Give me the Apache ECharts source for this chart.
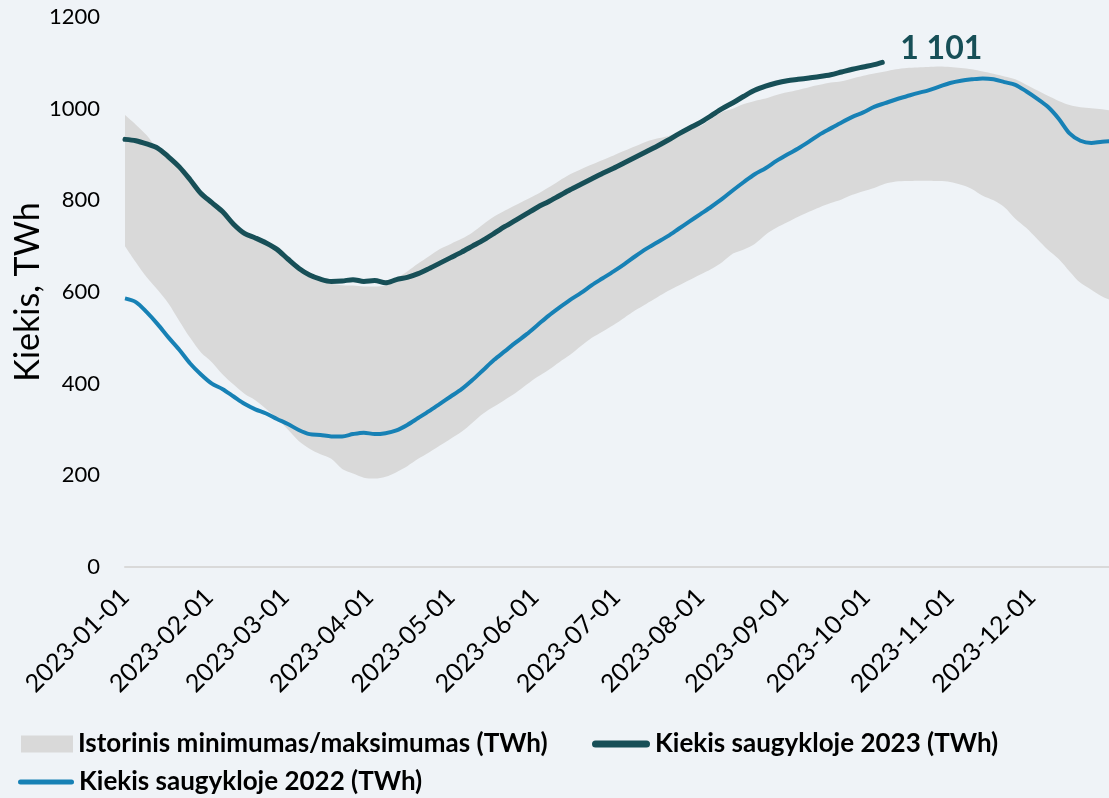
<!DOCTYPE html>
<html lang="lt">

<head>
	<meta charset="UTF-8" />
	<meta name="viewport" content="width=device-width, initial-scale=1.0" />
	<script src="https://cdn.jsdelivr.net/npm/echarts@6/dist/echarts.min.js"></script>
	<title>Dujų kiekis saugyklose</title>
	<style>
		html, body { margin: 0; padding: 0; background: #eff3f7; }
		#main { width: 1109px; height: 798px; }
	</style>
</head>

<body>
	<div id="main"></div>

	<script type="text/javascript">
		// datos kas 4 dienas
		const dates = [
			'2023-01-01', '2023-01-05', '2023-01-09', '2023-01-13', '2023-01-17', '2023-01-21', '2023-01-25', '2023-01-29',
			'2023-02-02', '2023-02-06', '2023-02-10', '2023-02-14', '2023-02-18', '2023-02-22', '2023-02-26',
			'2023-03-02', '2023-03-06', '2023-03-10', '2023-03-14', '2023-03-18', '2023-03-22', '2023-03-26', '2023-03-30',
			'2023-04-03', '2023-04-07', '2023-04-11', '2023-04-15', '2023-04-19', '2023-04-23', '2023-04-27',
			'2023-05-01', '2023-05-05', '2023-05-09', '2023-05-13', '2023-05-17', '2023-05-21', '2023-05-25', '2023-05-29',
			'2023-06-02', '2023-06-06', '2023-06-10', '2023-06-14', '2023-06-18', '2023-06-22', '2023-06-26', '2023-06-30',
			'2023-07-04', '2023-07-08', '2023-07-12', '2023-07-16', '2023-07-20', '2023-07-24', '2023-07-28',
			'2023-08-01', '2023-08-05', '2023-08-09', '2023-08-13', '2023-08-17', '2023-08-21', '2023-08-25', '2023-08-29',
			'2023-09-02', '2023-09-06', '2023-09-10', '2023-09-14', '2023-09-18', '2023-09-22', '2023-09-26', '2023-09-30',
			'2023-10-04', '2023-10-08', '2023-10-12', '2023-10-16', '2023-10-20', '2023-10-24', '2023-10-28',
			'2023-11-01', '2023-11-05', '2023-11-09', '2023-11-13', '2023-11-17', '2023-11-21', '2023-11-25', '2023-11-29',
			'2023-12-03', '2023-12-07', '2023-12-11', '2023-12-15', '2023-12-19', '2023-12-23', '2023-12-27', '2023-12-31',
		];

		const histMax = [
			986, 965, 942, 912, 893, 871, 843, 813, 793, 773,
			746, 726, 716, 705, 691, 670, 650, 635, 625, 618,
			615, 614, 612, 612, 615, 630, 645, 662, 678, 694,
			705, 716, 730, 748, 765, 778, 790, 802, 814, 828,
			843, 857, 868, 878, 888, 898, 908, 918, 928, 935,
			940, 948, 955, 962, 978, 993, 1000, 1010, 1017, 1022,
			1030, 1036, 1041, 1047, 1052, 1057, 1060, 1066, 1072, 1077,
			1081, 1086, 1089, 1090, 1091, 1092, 1091, 1089, 1086, 1081,
			1076, 1070, 1064, 1052, 1040, 1028, 1017, 1008, 1003, 1001,
			999, 995,
		];

		const histMin = [
			700, 665, 632, 605, 575, 537, 500, 468, 447, 420,
			398, 378, 364, 345, 325, 300, 275, 258, 246, 236,
			214, 204, 195, 193, 197, 207, 220, 236, 250, 265,
			280, 295, 315, 335, 350, 365, 380, 398, 415, 430,
			447, 463, 482, 500, 514, 528, 544, 560, 574, 588,
			602, 614, 626, 638, 650, 665, 684, 693, 705, 725,
			740, 752, 764, 775, 785, 794, 802, 812, 820, 827,
			836, 841, 842, 843, 843, 842, 840, 834, 825, 810,
			800, 785, 760, 740, 716, 692, 672, 645, 620, 605,
			590, 580,
		];

		const storage2022 = [
			586, 578, 556, 530, 501, 474, 444, 420, 400, 388,
			372, 356, 344, 335, 323, 312, 299, 290, 288, 285,
			285, 290, 293, 290, 292, 298, 310, 325, 340, 356,
			372, 388, 408, 430, 452, 471, 490, 508, 528, 548,
			566, 583, 598, 615, 630, 645, 661, 678, 694, 708,
			722, 738, 754, 770, 786, 803, 822, 840, 857, 870,
			886, 900, 913, 928, 944, 957, 970, 982, 992, 1004,
			1012, 1020, 1027, 1034, 1040, 1048, 1056, 1061, 1064, 1066,
			1064, 1058, 1052, 1038, 1022, 1004, 978, 946, 930, 925,
			928, 929,
		];

		// 2023 m. duomenys iki spalio 4 d., paskutinis taškas atskirai
		const storage2023 = [
			933, 930, 923, 914, 895, 873, 845, 815, 795, 775,
			748, 728, 718, 707, 693, 672, 652, 637, 628, 623,
			624, 627, 623, 625, 620, 627, 632, 640, 651, 663,
			675, 687, 700, 713, 728, 743, 757, 771, 785, 797,
			810, 823, 835, 847, 859, 870, 882, 894, 906, 918,
			931, 945, 958, 970, 985, 1000, 1013, 1027, 1040, 1049,
			1056, 1061, 1064, 1067, 1070, 1074, 1080, 1086, 1091, 1096,
		];
		const lastDate2023 = '2023-10-07';
		const lastValue2023 = 1101;

		const monthTicks = [
			'2023-01-01', '2023-02-01', '2023-03-01', '2023-04-01', '2023-05-01', '2023-06-01',
			'2023-07-01', '2023-08-01', '2023-09-01', '2023-10-01', '2023-11-01', '2023-12-01',
		];

		const NAME_BAND = 'Istorinis minimumas/maksimumas (TWh)';
		const NAME_2023 = 'Kiekis saugykloje 2023 (TWh)';
		const NAME_2022 = 'Kiekis saugykloje 2022 (TWh)';

		const COLOR_BAND = '#d9d9d9';
		const COLOR_2023 = '#174f57';
		const COLOR_2022 = '#1781b5';

		const ICON_2023 = 'path://M3.5,0L54.5,0A3.5,3.5,0,0,1,54.5,7L3.5,7A3.5,3.5,0,0,1,3.5,0Z';
		const ICON_2022 = 'path://M2.5,0L53.5,0A2.5,2.5,0,0,1,53.5,5L2.5,5A2.5,2.5,0,0,1,2.5,0Z';

		const toPairs = (xs, ys) => ys.map((v, i) => [xs[i], v]);
		const fmtThousands = v => String(v).replace(/\B(?=(\d{3})+(?!\d))/g, ' ');

		const initDom = () => {
			const mainChart = echarts.init(document.getElementById('main'));

			const bandDiff = histMax.map((v, i) => v - histMin[i]);
			const line2023 = toPairs(dates, storage2023).concat([[lastDate2023, lastValue2023]]);

			const legendText = {
				fontFamily: 'Lato',
				fontWeight: 'bold',
				fontSize: 26,
				color: '#000',
			};

			const option = {
				backgroundColor: '#eff3f7',
				animation: false,
				textStyle: { fontFamily: 'Lato' },
				grid: {
					left: 125,
					top: 17,
					width: 988,
					height: 550,
					containLabel: false,
					outerBoundsMode: 'none',
				},
				legend: [
					{
						data: [{ name: NAME_BAND, icon: 'rect', itemStyle: { color: COLOR_BAND, borderWidth: 0 } }],
						left: 21,
						top: 731,
						padding: 0,
						itemWidth: 52,
						itemHeight: 17,
						textStyle: legendText,
					},
					{
						data: [{ name: NAME_2023, icon: ICON_2023, itemStyle: { color: COLOR_2023, borderWidth: 0 } }],
						left: 592,
						top: 731,
						padding: 0,
						itemWidth: 58,
						itemHeight: 17,
						textStyle: legendText,
					},
					{
						data: [{ name: NAME_2022, icon: ICON_2022, itemStyle: { color: COLOR_2022, borderWidth: 0 } }],
						left: 18,
						top: 769,
						padding: 0,
						itemWidth: 56,
						itemHeight: 17,
						textStyle: legendText,
					},
				],
				xAxis: {
					type: 'time',
					min: '2023-01-01',
					max: '2023-12-31',
					axisLine: { show: true, lineStyle: { color: '#d9d9d9', width: 2 } },
					axisTick: { show: false, customValues: monthTicks },
					splitLine: { show: false },
					axisLabel: {
						customValues: monthTicks,
						formatter: '{yyyy}-{MM}-{dd}',
						rotate: 45,
						margin: 26,
						fontSize: 25,
						color: '#000',
						hideOverlap: false,
					},
				},
				yAxis: {
					type: 'value',
					min: 0,
					max: 1200,
					interval: 200,
					name: 'Kiekis, TWh',
					nameLocation: 'middle',
					nameGap: 80,
					nameMoveOverlap: false,
					nameTextStyle: { fontSize: 34, color: '#000' },
					axisLine: { show: false },
					axisTick: { show: false },
					splitLine: { show: false },
					axisLabel: { fontSize: 22, color: '#000', margin: 25, formatter: v => String(v) },
				},
				series: [
					{
						name: 'min',
						type: 'line',
						stack: 'band',
						data: toPairs(dates, histMin),
						symbol: 'none',
						smooth: 0.3,
						silent: true,
						lineStyle: { width: 0, opacity: 0 },
					},
					{
						name: NAME_BAND,
						type: 'line',
						stack: 'band',
						data: toPairs(dates, bandDiff),
						symbol: 'none',
						smooth: 0.3,
						lineStyle: { width: 0, opacity: 0, color: COLOR_BAND },
						itemStyle: { color: COLOR_BAND },
						areaStyle: { color: COLOR_BAND, opacity: 1 },
					},
					{
						name: NAME_2022,
						type: 'line',
						data: toPairs(dates, storage2022),
						symbol: 'none',
						smooth: 0.3,
						lineStyle: { width: 4, color: COLOR_2022 },
						itemStyle: { color: COLOR_2022 },
					},
					{
						name: NAME_2023,
						type: 'line',
						data: line2023,
						symbol: 'none',
						smooth: 0.3,
						lineStyle: { width: 5, color: COLOR_2023, cap: 'round' },
						itemStyle: { color: COLOR_2023 },
						endLabel: {
							show: true,
							formatter: p => fmtThousands(p.value[1]),
							color: COLOR_2023,
							fontFamily: 'Lato',
							fontWeight: 'bold',
							fontSize: 32,
							offset: [10, -14],
						},
					},
				],
			};
			mainChart.setOption(option);
		};

		initDom();
	</script>
</body>

</html>
